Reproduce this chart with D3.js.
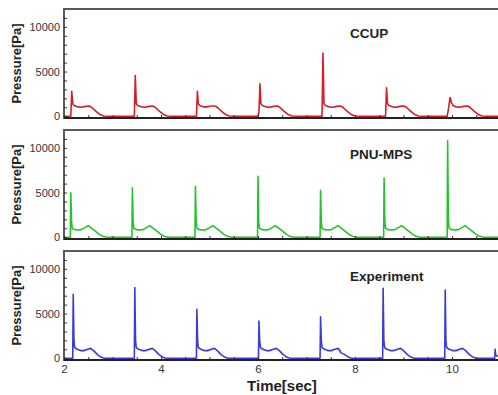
<!DOCTYPE html>
<html>
<head>
<meta charset="utf-8">
<script src="https://cdn.jsdelivr.net/npm/d3@7"></script>
<style>
html,body{margin:0;padding:0;background:#fff;}
svg{display:block;}
text{font-family:"Liberation Sans",Arial,sans-serif;}
</style>
</head>
<body>
<svg id="chart" width="498" height="395"></svg>
<script>
// ---- data ----
const panelTitles = ["CCUP", "PNU-MPS", "Experiment"];
const seriesColors = ["#d41f26", "#22c427", "#3b3bd6"];
const xTickLabels = [2, 4, 6, 8, 10];
const yTickLabels = [0, 5000, 10000];

const ccupTime = [
  2.00,2.14,2.16,2.18,2.21,2.28,2.36,2.44,2.52,2.58,2.66,2.74,2.82,2.91,
  3.45,3.47,3.49,3.52,3.59,3.67,3.75,3.83,3.89,3.97,4.05,4.13,4.22,
  4.73,4.75,4.77,4.80,4.87,4.95,5.03,5.11,5.17,5.25,5.33,5.41,5.50,
  6.00,6.02,6.04,6.06,6.09,6.16,6.24,6.32,6.40,6.46,6.54,6.62,6.70,6.79,
  7.32,7.34,7.36,7.39,7.46,7.54,7.62,7.70,7.76,7.84,7.92,8.00,8.09,
  8.63,8.65,8.67,8.70,8.77,8.85,8.93,9.01,9.07,9.15,9.23,9.31,9.40,
  9.90,9.93,9.96,9.99,10.02,10.08,10.16,10.24,10.32,10.38,10.46,10.54,10.62,10.71,11.00
];
const ccupPressure = [
  0,0,2800,1400,1200,1050,1000,1100,1150,950,550,200,30,0,
  0,4550,1400,1200,1050,1000,1100,1150,950,550,200,30,0,
  0,2800,1400,1200,1050,1050,1150,1150,950,550,200,30,0,
  0,500,3630,1400,1200,1050,1000,1100,1150,950,550,200,30,0,
  0,7080,1400,1200,1050,1000,1100,1150,950,550,200,30,0,
  0,3190,1400,1200,1050,1000,1100,1150,950,550,200,30,0,
  0,900,2100,1500,1200,1050,1000,1100,1150,950,550,200,30,0,0
];

const mpsTime = [
  2.00,2.13,2.14,2.155,2.17,2.22,2.29,2.36,2.44,2.50,2.56,2.64,2.72,2.80,2.88,
  3.40,3.41,3.425,3.44,3.49,3.56,3.63,3.71,3.77,3.83,3.91,3.99,4.07,4.15,
  4.70,4.71,4.725,4.74,4.79,4.86,4.93,5.01,5.07,5.13,5.21,5.29,5.37,5.45,
  5.99,6.00,6.015,6.03,6.08,6.15,6.22,6.30,6.36,6.42,6.50,6.58,6.66,6.74,
  7.28,7.29,7.305,7.32,7.37,7.44,7.51,7.59,7.65,7.71,7.79,7.87,7.95,8.03,
  8.59,8.60,8.615,8.63,8.68,8.75,8.82,8.90,8.96,9.02,9.10,9.18,9.26,9.34,
  9.90,9.91,9.925,9.94,9.99,10.06,10.13,10.21,10.27,10.33,10.41,10.49,10.57,10.65,11.00
];
const mpsPressure = [
  0,0,4970,1800,1000,850,800,850,1100,1300,1050,700,350,100,0,
  0,5520,1800,1000,850,800,850,1100,1300,1050,700,350,100,0,
  0,5700,1800,1000,850,800,850,1100,1300,1050,700,350,100,0,
  0,6810,1800,1000,850,800,850,1100,1300,1050,700,350,100,0,
  0,5260,1800,1000,850,800,850,1100,1300,1050,700,350,100,0,
  0,6630,1800,1000,850,800,850,1100,1300,1050,700,350,100,0,
  0,10780,2000,1000,850,800,850,1100,1300,1050,700,350,100,0,0
];

const expTime = [
  2.00,2.18,2.19,2.205,2.22,2.27,2.34,2.41,2.49,2.55,2.61,2.69,2.77,2.83,
  3.45,3.46,3.475,3.49,3.54,3.61,3.68,3.76,3.82,3.88,3.96,4.04,4.10,
  4.73,4.74,4.755,4.77,4.82,4.89,4.96,5.04,5.10,5.16,5.24,5.32,5.38,
  6.01,6.02,6.035,6.05,6.10,6.17,6.24,6.32,6.38,6.44,6.52,6.60,6.66,
  7.28,7.29,7.305,7.32,7.37,7.44,7.51,7.59,7.65,7.69,7.71,7.79,7.87,7.93,
  8.57,8.58,8.595,8.61,8.66,8.73,8.80,8.88,8.94,9.00,9.08,9.16,9.22,
  9.85,9.86,9.875,9.89,9.94,10.01,10.08,10.16,10.22,10.28,10.36,10.44,10.50,
  10.88,10.89,10.90,10.92,11.00
];
const expPressure = [
  0,0,7160,2000,1200,1000,850,850,1000,1100,850,400,100,0,
  0,7900,2000,1200,1000,850,850,1000,1100,850,400,100,0,
  0,5470,2000,1200,1000,850,850,1000,1100,850,400,100,0,
  0,4160,2000,1200,1000,850,850,1000,1100,850,400,100,0,
  0,4640,2000,1200,1000,850,850,1000,1100,850,600,400,100,0,
  0,7830,2000,1200,1000,850,850,1000,1100,850,400,100,0,
  0,7640,2000,1200,1000,850,850,1000,1100,850,400,100,0,
  0,1000,400,250,250
];

const seriesTime = [ccupTime, mpsTime, expTime];
const seriesPressure = [ccupPressure, mpsPressure, expPressure];

// ---- layout ----
const svg = d3.select("#chart");
const left = 64, right = 500.5;
const panelTops = [9, 130, 251];
const panelH = 109;

const x = d3.scaleLinear().domain([2, 11]).range([left, right]);

const clip = svg.append("defs");

panelTitles.forEach((title, i) => {
  const top = panelTops[i], bottom = top + panelH;
  const y = d3.scaleLinear().domain([-200, 12000]).range([bottom, top]);
  const g = svg.append("g");

  clip.append("clipPath").attr("id", "clip" + i)
    .append("rect").attr("x", left).attr("y", top).attr("width", right - left).attr("height", panelH);

  // frame
  g.append("rect").attr("x", left).attr("y", top).attr("width", right - left).attr("height", panelH)
    .attr("fill", "#fff").attr("stroke", "#5a5a5a").attr("stroke-width", 2);

  // data line
  const pts = seriesTime[i].map((t, k) => [t, seriesPressure[i][k]]);
  g.append("path").datum(pts)
    .attr("clip-path", "url(#clip" + i + ")")
    .attr("fill", "none").attr("stroke", seriesColors[i]).attr("stroke-width", 1.6)
    .attr("stroke-linejoin", "round")
    .attr("d", d3.line().x(d => x(d[0])).y(d => y(d[1])));

  // y axis: minor ticks
  const yMinor = d3.axisRight(y).tickValues(d3.range(0, 12000, 1000)).tickSize(3).tickFormat("");
  g.append("g").attr("transform", `translate(${left},0)`).call(yMinor)
    .call(a => a.select(".domain").remove())
    .call(a => a.selectAll("line").attr("stroke", "#333"));
  // y axis labels
  const yAxis = d3.axisLeft(y).tickValues(yTickLabels).tickSize(0).tickPadding(4).tickFormat(d3.format("d"));
  g.append("g").attr("transform", `translate(${left},0)`).call(yAxis)
    .call(a => a.select(".domain").remove())
    .call(a => a.selectAll("text").attr("font-size", 11).attr("fill", "#333")
      .attr("font-family", "'Liberation Sans', Arial, sans-serif"));

  // x axis ticks
  const xAx = d3.axisTop(x).tickValues(d3.range(2, 11.01, 0.5)).tickSize(3).tickFormat("");
  g.append("g").attr("transform", `translate(0,${bottom})`).call(xAx)
    .call(a => a.select(".domain").remove())
    .call(a => a.selectAll("line").attr("stroke", "#333"));
  // bottom axis line
  g.append("line").attr("x1", left).attr("x2", right).attr("y1", bottom).attr("y2", bottom)
    .attr("stroke", "#222").attr("stroke-width", 2);

  if (i === 2) {
    const xLab = d3.axisBottom(x).tickValues(xTickLabels).tickSize(0).tickPadding(5);
    g.append("g").attr("transform", `translate(0,${bottom})`).call(xLab)
      .call(a => a.select(".domain").remove())
      .call(a => a.selectAll("text").attr("font-size", 11.5).attr("fill", "#333")
        .attr("font-family", "'Liberation Sans', Arial, sans-serif"));
  }

  // panel title
  g.append("text").attr("x", 350).attr("y", top + (i === 2 ? 30 : 29))
    .attr("font-size", 13.5).attr("font-weight", "bold").attr("fill", "#222")
    .text(title);

  // y label
  g.append("text").attr("transform", `translate(21,${top + panelH / 2}) rotate(-90)`)
    .attr("text-anchor", "middle").attr("font-size", 13).attr("font-weight", "bold").attr("fill", "#222")
    .text("Pressure[Pa]");
});

svg.append("text").attr("x", 282).attr("y", 391).attr("text-anchor", "middle")
  .attr("font-size", 15).attr("font-weight", "bold").attr("fill", "#222")
  .text("Time[sec]");
</script>
</body>
</html>
